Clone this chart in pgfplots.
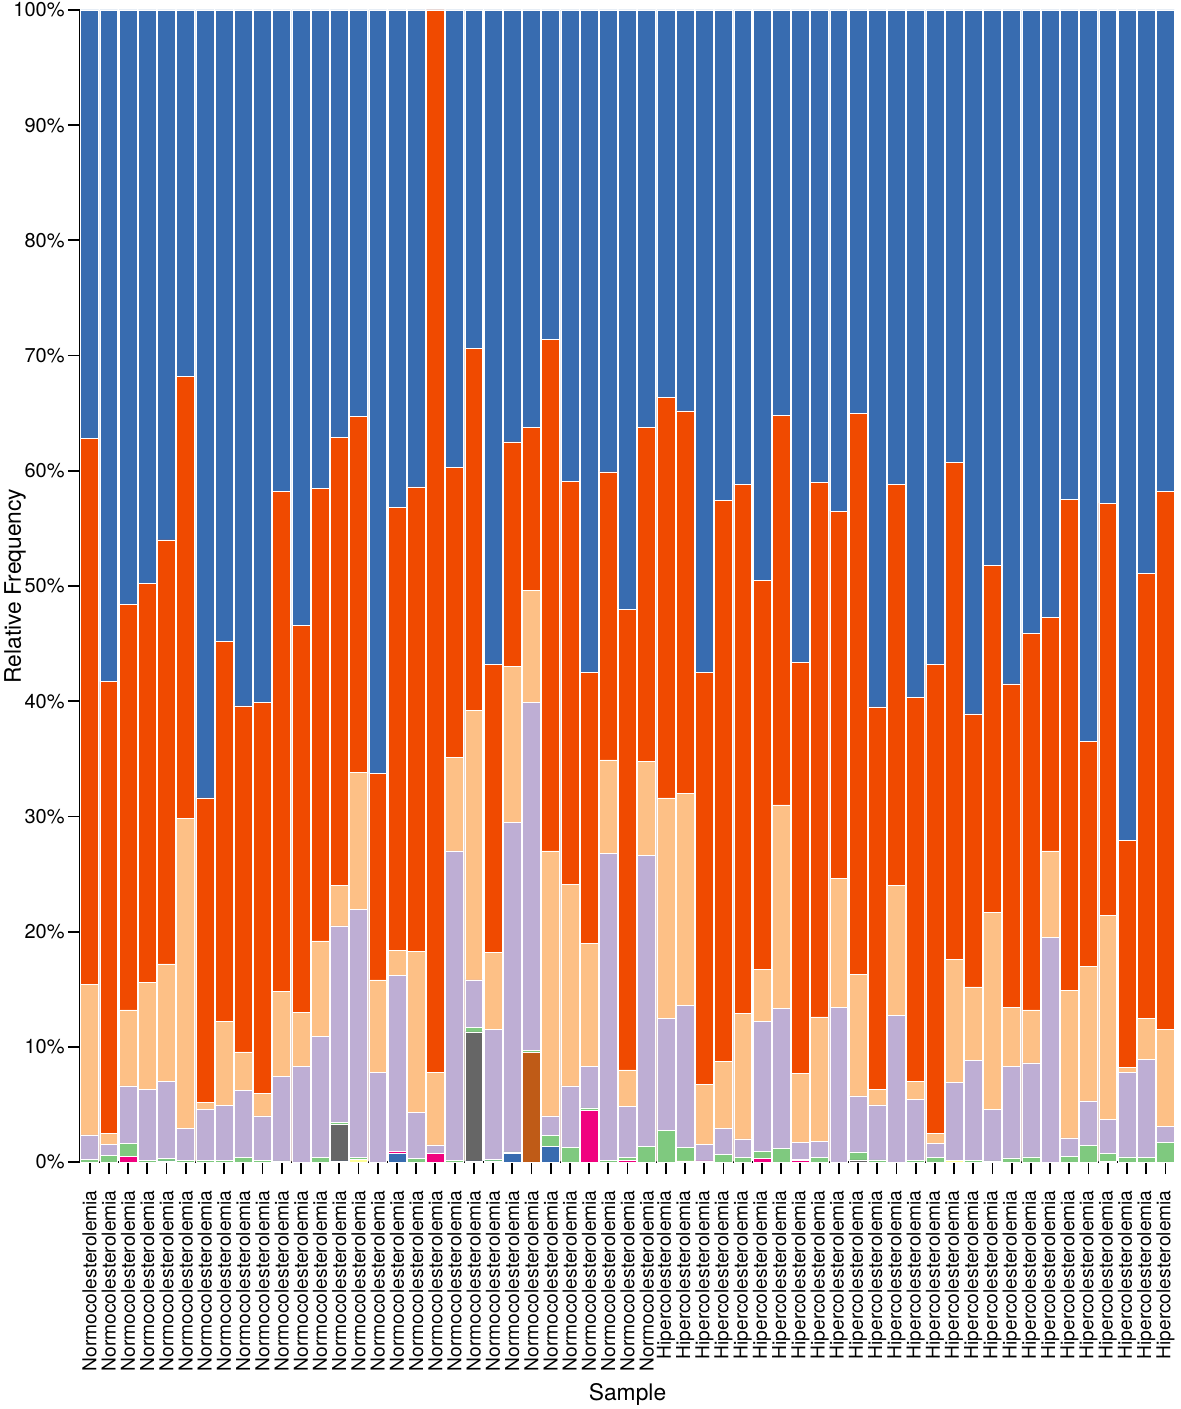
\documentclass[border=0pt]{standalone}
\usepackage{pgfplots}
\pgfplotsset{compat=1.18}
\usepackage{fontspec}
\setmainfont{TeX Gyre Heros}

\definecolor{cTop}{HTML}{386CB0}
\definecolor{cOra}{HTML}{F04A00}
\definecolor{cPea}{HTML}{FDC086}
\definecolor{cLav}{HTML}{BEAED4}
\definecolor{cGre}{HTML}{7FC97F}
\definecolor{cYel}{HTML}{FFFF99}
\definecolor{cBro}{HTML}{BF5B17}
\definecolor{cGra}{HTML}{666666}
\definecolor{cPin}{HTML}{F0027F}
\definecolor{cDbl}{HTML}{386CB0}

% cumulative tops of each layer (percent)
% bars 0-29 Normocolesterolemia, 30-56 Hipercolesterolemia

\begin{document}
\begin{tikzpicture}
\path[use as bounding box] (-40pt,-123.5pt) rectangle (550.5pt,581pt);
\begin{axis}[
  scale only axis, width=547.5pt, height=576pt,
  xmin=-0.5, xmax=56.5, ymin=0, ymax=100,
  enlargelimits=false,
  axis x line*=bottom, axis y line*=left,
  x axis line style={-, line width=1pt},
  y axis line style={-, line width=1pt},
  tick align=outside, tick pos=left,
  major tick length=6pt,
  tick style={black, line width=0.9pt},
  xtick={0,...,56},
  xticklabels={Normocolesterolemia,Normocolesterolemia,Normocolesterolemia,Normocolesterolemia,Normocolesterolemia,
    Normocolesterolemia,Normocolesterolemia,Normocolesterolemia,Normocolesterolemia,Normocolesterolemia,
    Normocolesterolemia,Normocolesterolemia,Normocolesterolemia,Normocolesterolemia,Normocolesterolemia,
    Normocolesterolemia,Normocolesterolemia,Normocolesterolemia,Normocolesterolemia,Normocolesterolemia,
    Normocolesterolemia,Normocolesterolemia,Normocolesterolemia,Normocolesterolemia,Normocolesterolemia,
    Normocolesterolemia,Normocolesterolemia,Normocolesterolemia,Normocolesterolemia,Normocolesterolemia,
    Hipercolesterolemia,Hipercolesterolemia,Hipercolesterolemia,Hipercolesterolemia,Hipercolesterolemia,
    Hipercolesterolemia,Hipercolesterolemia,Hipercolesterolemia,Hipercolesterolemia,Hipercolesterolemia,
    Hipercolesterolemia,Hipercolesterolemia,Hipercolesterolemia,Hipercolesterolemia,Hipercolesterolemia,
    Hipercolesterolemia,Hipercolesterolemia,Hipercolesterolemia,Hipercolesterolemia,Hipercolesterolemia,
    Hipercolesterolemia,Hipercolesterolemia,Hipercolesterolemia,Hipercolesterolemia,Hipercolesterolemia,
    Hipercolesterolemia,Hipercolesterolemia},
  xticklabel style={rotate=90, anchor=east, font=\fontsize{9.6}{12}\selectfont, inner sep=0pt},
  xticklabel shift=8pt,
  ytick={0,10,...,100},
  yticklabels={0\%,10\%,20\%,30\%,40\%,50\%,60\%,70\%,80\%,90\%,100\%},
  yticklabel style={font=\fontsize{10}{12}\selectfont, inner sep=1.5pt},
  xlabel={Sample}, ylabel={Relative Frequency},
  xlabel style={at={(rel axis cs:0.5,0)}, anchor=center, yshift=-116pt, font=\fontsize{11.4}{13}\selectfont},
  ylabel style={at={(rel axis cs:0,0.5)}, anchor=center, rotate=0, yshift=32.5pt, font=\fontsize{11.4}{13}\selectfont},
  ybar, bar width=0.93, bar shift=0pt,
  every axis plot/.append style={draw=white, line width=0.3pt, bar shift=0pt},
]
% top layer (blue), fills to 100%
\addplot[fill=cTop] coordinates {(0,100)(1,100)(2,100)(3,100)(4,100)(5,100)(6,100)(7,100)(8,100)(9,100)
(10,100)(11,100)(12,100)(13,100)(14,100)(15,100)(16,100)(17,100)(18,100)(19,100)
(20,100)(21,100)(22,100)(23,100)(24,100)(25,100)(26,100)(27,100)(28,100)(29,100)
(30,100)(31,100)(32,100)(33,100)(34,100)(35,100)(36,100)(37,100)(38,100)(39,100)
(40,100)(41,100)(42,100)(43,100)(44,100)(45,100)(46,100)(47,100)(48,100)(49,100)
(50,100)(51,100)(52,100)(53,100)(54,100)(55,100)(56,100)};
% orange
\addplot[fill=cOra] coordinates {(0,62.8)(1,41.7)(2,48.4)(3,50.2)(4,54.0)(5,68.2)(6,31.6)(7,45.2)(8,39.6)(9,39.9)
(10,58.2)(11,46.6)(12,58.5)(13,62.9)(14,64.7)(15,33.7)(16,56.8)(17,58.6)(18,100)(19,60.3)
(20,70.6)(21,43.2)(22,62.5)(23,63.8)(24,71.4)(25,59.1)(26,42.5)(27,59.9)(28,48.0)(29,63.8)
(30,66.4)(31,65.2)(32,42.5)(33,57.4)(34,58.8)(35,50.5)(36,64.8)(37,43.4)(38,59.0)(39,56.5)
(40,65.0)(41,39.5)(42,58.8)(43,40.3)(44,43.2)(45,60.7)(46,38.9)(47,51.8)(48,41.5)(49,45.9)
(50,47.3)(51,57.5)(52,36.5)(53,57.2)(54,27.9)(55,51.1)(56,58.2)};
% peach
\addplot[fill=cPea] coordinates {(0,15.4)(1,2.45)(2,13.2)(3,15.6)(4,17.2)(5,29.8)(6,5.2)(7,12.2)(8,9.55)(9,5.96)
(10,14.8)(11,13.0)(12,19.2)(13,24.0)(14,33.8)(15,15.8)(16,18.4)(17,18.3)(18,7.8)(19,35.1)
(20,39.2)(21,18.2)(22,43.0)(23,49.6)(24,27.0)(25,24.1)(26,19.0)(27,34.9)(28,8.0)(29,34.8)
(30,31.6)(31,32.0)(32,6.77)(33,8.74)(34,12.9)(35,16.75)(36,31.0)(37,7.7)(38,12.6)(39,24.6)
(40,16.3)(41,6.3)(42,24.0)(43,7.0)(44,2.45)(45,17.6)(46,15.2)(47,21.7)(48,13.4)(49,13.2)
(50,27.0)(51,14.9)(52,17.0)(53,21.4)(54,8.2)(55,12.5)(56,11.5)};
% lavender
\addplot[fill=cLav] coordinates {(0,2.35)(1,1.55)(2,6.6)(3,6.3)(4,7.0)(5,2.9)(6,4.6)(7,4.9)(8,6.2)(9,4.0)
(10,7.4)(11,8.3)(12,10.9)(13,20.5)(14,21.9)(15,7.75)(16,16.2)(17,4.3)(18,1.48)(19,27.0)
(20,15.8)(21,11.5)(22,29.5)(23,39.9)(24,4.0)(25,6.6)(26,8.3)(27,26.8)(28,4.86)(29,26.6)
(30,12.5)(31,13.6)(32,1.56)(33,2.9)(34,2.0)(35,12.2)(36,13.3)(37,1.7)(38,1.8)(39,13.4)
(40,5.73)(41,4.95)(42,12.7)(43,5.4)(44,1.6)(45,6.9)(46,8.85)(47,4.57)(48,8.3)(49,8.6)
(50,19.5)(51,2.1)(52,5.3)(53,3.7)(54,7.8)(55,8.9)(56,3.1)};
% green
\addplot[fill=cGre] coordinates {(0,0.23)(1,0.6)(2,1.6)(3,0.17)(4,0.3)(5,0.15)(6,0.17)(7,0.15)(8,0.43)(9,0.15)
(10,0.1)(12,0.38)(13,3.45)(14,0.4)(17,0.3)(19,0.17)
(20,11.66)(21,0.25)(22,0.87)(23,9.66)(24,2.3)(25,1.3)(26,4.7)(27,0.17)(28,0.4)(29,1.33)
(30,2.75)(31,1.3)(33,0.65)(34,0.4)(35,0.95)(36,1.2)(37,0.22)(38,0.38)
(40,0.88)(41,0.18)(43,0.17)(44,0.38)(46,0.15)(47,0.1)(48,0.35)(49,0.45)
(51,0.48)(52,1.45)(53,0.72)(54,0.45)(55,0.4)(56,1.72)};
% yellow
\addplot[fill=cYel] coordinates {(14,0.2)(31,0.1)(45,0.15)};
% brown
\addplot[fill=cBro] coordinates {(23,9.55)};
% grey
\addplot[fill=cGra] coordinates {(13,3.27)(20,11.3)(40,0.18)};
% pink
\addplot[fill=cPin] coordinates {(2,0.5)(16,0.9)(18,0.72)(26,4.45)(28,0.17)(32,0.1)(35,0.29)(37,0.15)};
% dark blue
\addplot[fill=cDbl] coordinates {(4,0.1)(13,0.1)(16,0.72)(20,0.1)(21,0.1)(22,0.72)(24,1.33)(53,0.05)};
\end{axis}
\end{tikzpicture}
\end{document}
